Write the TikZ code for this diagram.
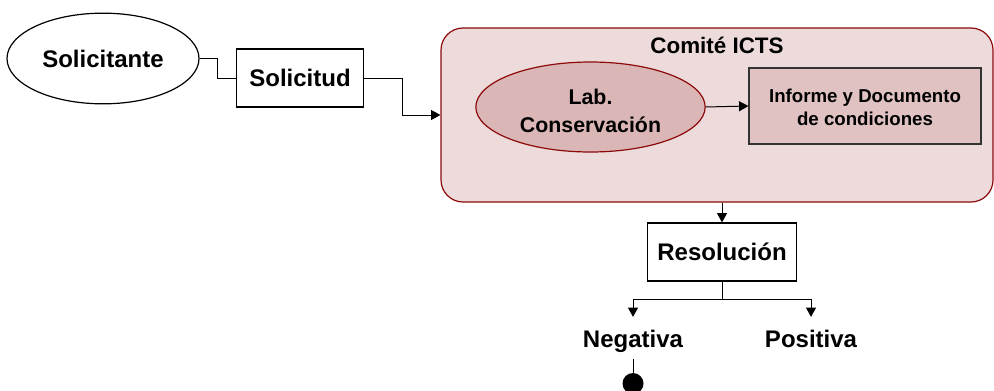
\documentclass[tikz,border=0pt]{standalone}
\usepackage{fontspec}
\setmainfont{Liberation Sans}
\usepackage{tikz}
\usetikzlibrary{shapes.geometric,arrows.meta,calc}

\definecolor{comitefill}{RGB}{237,218,218}
\definecolor{labfill}{RGB}{219,182,182}
\definecolor{informefill}{RGB}{224,194,194}
\definecolor{darkred}{RGB}{140,10,10}

\begin{document}
\begin{tikzpicture}[x=0.75pt,y=0.75pt,
    flow/.style={line width=0.75pt,-{Triangle[length=7pt,width=7.5pt]}},
    plain/.style={line width=0.75pt},
    actor/.style={ellipse,draw,line width=0.9pt,inner sep=0pt,font=\bfseries\fontsize{18}{21}\selectfont},
    docbox/.style={rectangle,draw,line width=0.9pt,inner sep=0pt,align=center,font=\bfseries\fontsize{18}{21}\selectfont},
    outcome/.style={anchor=base,inner xsep=0pt,inner ysep=9.75pt,text height=13pt,text depth=4pt,
                    font=\bfseries\fontsize{18}{21}\selectfont}]

    \useasboundingbox (0,0) rectangle (994,390);
    \clip (0,0) rectangle (994,390);

    % Solicitante and request
    \node[actor,minimum width=144pt,minimum height=68pt] (solicitante) at (103,331.5) {Solicitante};
    \node[docbox,minimum width=95pt,minimum height=43.5pt] (solicitud) at (300,312) {Solicitud};

    % Comite ICTS
    \node[rectangle,rounded corners=16.5pt,draw=darkred,fill=comitefill,line width=0.9pt,
          minimum width=414pt,minimum height=130.5pt] (comite) at (717,275) {};
    \node[font=\bfseries\fontsize{16.8}{20}\selectfont] (comitetitle) at (717,345) {Comité ICTS};

    % Lab. Conservacion
    \node[actor,draw=darkred,fill=labfill,align=center,minimum width=172pt,minimum height=67.5pt,
          font=\bfseries\fontsize{16}{21}\selectfont] (lab) at (590.5,283) {\rule{0pt}{17.5pt}Lab.\\Conservación};

    % Informe
    \node[docbox,fill=informefill,draw=black!80,minimum width=174pt,minimum height=57pt,
          font=\bfseries\fontsize{14}{17.3}\selectfont] (informe) at (865,284) {\rule{0pt}{12.5pt}Informe y Documento\\de condiciones};

    % Resolucion
    \node[docbox,minimum width=111.75pt,minimum height=43.5pt] (resolucion) at (722,138) {Resolución};
    \coordinate (split) at (722,91);

    % Outcomes
    \node[outcome] (negativa) at (633,42.5) {Negativa};
    \node[outcome] (positiva) at (811,42.5) {Positiva};
    \node[circle,fill=black,inner sep=0pt,minimum size=15.75pt] (fin) at (633,6.5) {};

    % Connectors
    \draw[plain] (solicitante.east) -- ++(18,0) |- (solicitud.west);
    \draw[flow] (solicitud.east) -- ++(39,0) |- (comite.west);
    \draw[flow] (lab.east) -- (informe.west);
    \draw[flow] (resolucion.north |- comite.south) -- (resolucion.north);
    \draw[plain] (resolucion.south) -- (split);
    \draw[flow] (split) -| (negativa.north);
    \draw[flow] (split) -| (positiva.north);
    \draw[plain] ([yshift=5pt]negativa.south) -- (fin.north);

\end{tikzpicture}
\end{document}
